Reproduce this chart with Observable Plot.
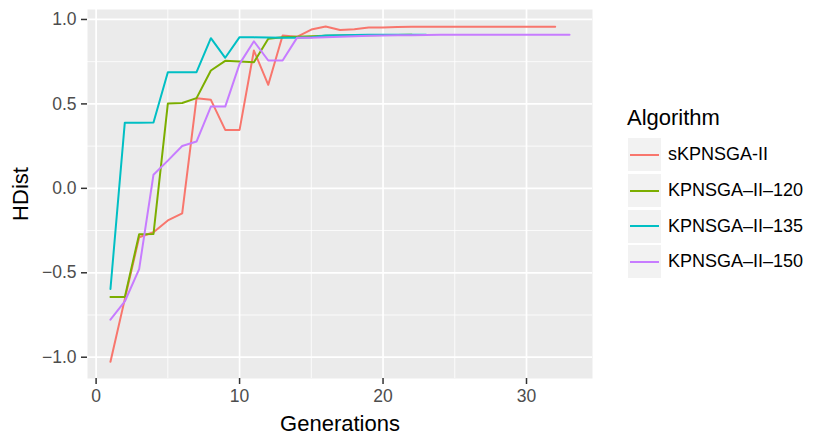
<!DOCTYPE html>
<html>
<head>
<meta charset="utf-8">
<script src="https://cdn.jsdelivr.net/npm/d3@7"></script>
<script src="https://cdn.jsdelivr.net/npm/@observablehq/plot@0.6"></script>
<style>
  html, body { margin: 0; padding: 0; background: #ffffff; }
  #wrap { position: relative; width: 830px; height: 442px; font-family: "Liberation Sans", Arial, Helvetica, sans-serif; }
  #legend { position: absolute; left: 627px; top: 103px; }
  #legend .title { font-size: 22px; color: #000; height: 34px; line-height: 30px; }
  #legend .row { display: flex; align-items: center; height: 35.7px; }
  #legend .key { width: 33px; height: 33px; background: #f2f2f2; position: relative; margin-left: 1px; }
  #legend .key span { position: absolute; left: 2px; right: 2px; top: 15.5px; height: 2px; }
  #legend .lab { font-size: 18px; color: #000; margin-left: 7px; }
</style>
</head>
<body>
<div id="wrap"></div>
<script>
// ---- data ----
const algorithms = ["sKPNSGA-II", "KPNSGA–II–120", "KPNSGA–II–135", "KPNSGA–II–150"];
const colors = ["#F8766D", "#7CAE00", "#00BFC4", "#C77CFF"];

const sKPNSGA = [-1.027, -0.656, -0.29, -0.26, -0.19, -0.148, 0.534, 0.524, 0.346, 0.346,
  0.816, 0.613, 0.905, 0.897, 0.94, 0.958, 0.938, 0.942, 0.952, 0.953,
  0.955, 0.957, 0.957, 0.957, 0.957, 0.957, 0.957, 0.957, 0.957, 0.957, 0.957, 0.957];
const kp120 = [-0.644, -0.644, -0.272, -0.27, 0.502, 0.505, 0.534, 0.698, 0.755, 0.751,
  0.747, 0.886, 0.895, 0.897, 0.9, 0.903, 0.905, 0.906, 0.907, 0.908, 0.908, 0.909];
const kp135 = [-0.596, 0.389, 0.389, 0.39, 0.688, 0.688, 0.688, 0.889, 0.773, 0.895,
  0.894, 0.893, 0.892, 0.892, 0.895, 0.905, 0.907, 0.908, 0.909, 0.909, 0.909, 0.909, 0.909];
const kp150 = [-0.778, -0.67, -0.478, 0.081, 0.164, 0.251, 0.277, 0.484, 0.484, 0.737,
  0.871, 0.757, 0.757, 0.891, 0.892, 0.895, 0.898, 0.901, 0.903, 0.905,
  0.906, 0.907, 0.908, 0.909, 0.909, 0.909, 0.909, 0.909, 0.909, 0.909, 0.909, 0.909, 0.909];

const xTicks = [0, 10, 20, 30];
const xMinor = [5, 15, 25];
const yTicks = [-1, -0.5, 0, 0.5, 1];
const yMinor = [-0.75, -0.25, 0.25, 0.75];

const seriesValues = [sKPNSGA, kp120, kp135, kp150];
const data = [];
seriesValues.forEach((vals, i) => vals.forEach((v, j) => data.push({alg: algorithms[i], gen: j + 1, v})));

const plot = Plot.plot({
  width: 830,
  height: 442,
  marginLeft: 87,
  marginRight: 238,
  marginTop: 9,
  marginBottom: 64,
  style: {fontFamily: '"Liberation Sans", Arial, Helvetica, sans-serif', background: "#ffffff"},
  x: {domain: [-0.6, 34.6]},
  y: {domain: [-1.126, 1.059]},
  color: {domain: algorithms, range: colors},
  marks: [
    Plot.frame({fill: "#ebebeb", stroke: "none"}),
    Plot.gridX(xMinor, {stroke: "#ffffff", strokeOpacity: 1, strokeWidth: 0.8}),
    Plot.gridY(yMinor, {stroke: "#ffffff", strokeOpacity: 1, strokeWidth: 0.8}),
    Plot.gridX(xTicks, {stroke: "#ffffff", strokeOpacity: 1, strokeWidth: 1.7}),
    Plot.gridY(yTicks, {stroke: "#ffffff", strokeOpacity: 1, strokeWidth: 1.7}),
    Plot.line(data, {x: "gen", y: "v", stroke: "alg", z: "alg", strokeWidth: 2}),
    Plot.axisX(xTicks, {tickSize: 6, tickPadding: 5, fontSize: 17.5, fill: "#4d4d4d", stroke: "#333333", strokeWidth: 1.5,
      tickFormat: d3.format("d"),
      label: "Generations", labelAnchor: "center", labelOffset: 52, labelArrow: "none"}),
    Plot.axisY(yTicks, {tickSize: 6, tickPadding: 5, fontSize: 17.5, fill: "#4d4d4d", stroke: "#333333", strokeWidth: 1.5,
      tickFormat: d3.format(".1f"),
      label: "HDist", labelAnchor: "center", labelOffset: 75, labelArrow: "none"})
  ]
});
// axis titles styling
d3.select(plot).selectAll("g[aria-label='x-axis label'] text, g[aria-label='y-axis label'] text")
  .attr("font-size", 22).attr("fill", "#000000");

const wrap = document.getElementById("wrap");
wrap.appendChild(plot);

const legend = document.createElement("div");
legend.id = "legend";
legend.innerHTML = `<div class="title">Algorithm</div>` +
  algorithms.map((a, i) => `<div class="row"><div class="key"><span style="background:${colors[i]}"></span></div><div class="lab">${a}</div></div>`).join("");
wrap.appendChild(legend);
</script>
</body>
</html>
